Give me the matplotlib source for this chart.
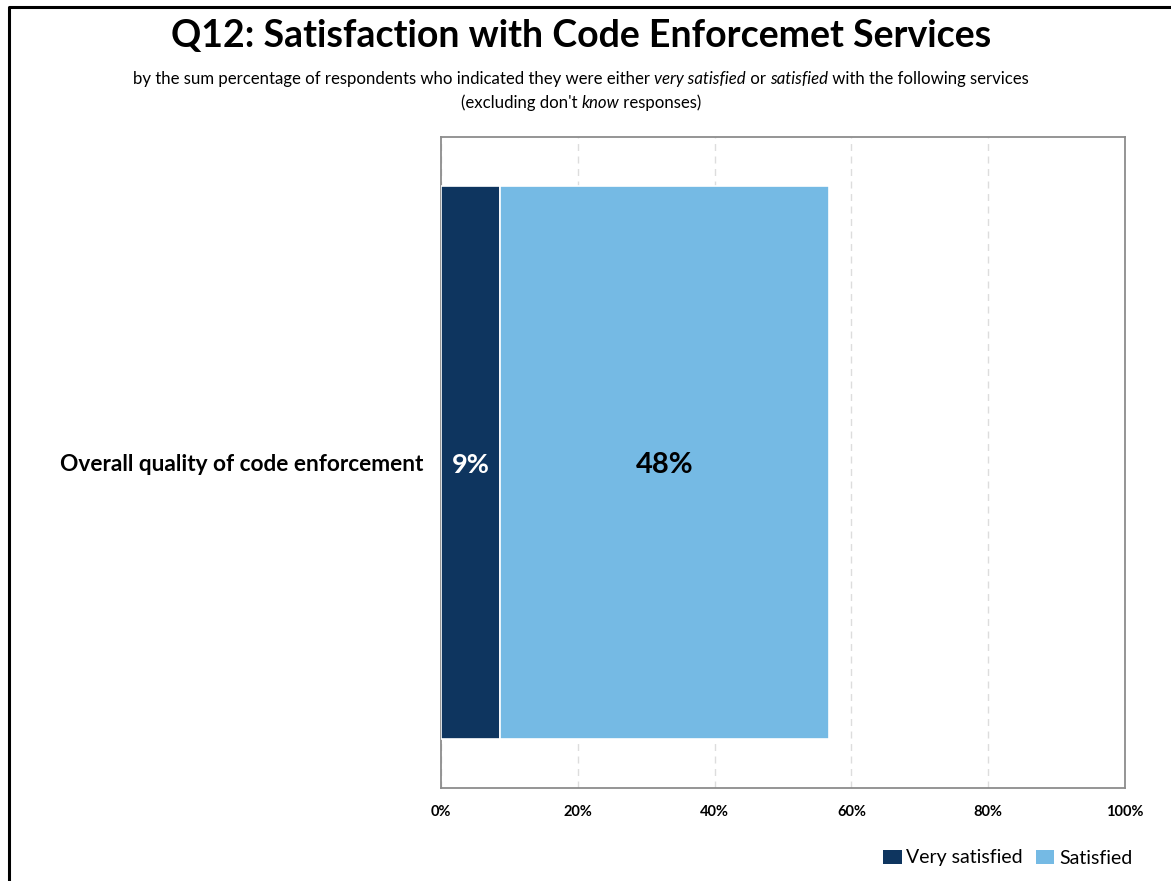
import matplotlib
matplotlib.use("Agg")
import matplotlib.pyplot as plt
from matplotlib.patches import Patch
from matplotlib.lines import Line2D

plt.rcParams['font.family'] = ['Lato', 'DejaVu Sans']

# Data
categories = ["Overall quality of code enforcement"]
very_satisfied = [8.6]
satisfied = [48.1]
series_names = ["Very satisfied", "Satisfied"]
series_colors = ["#0E355F", "#75BAE4"]
x_ticks = [0, 20, 40, 60, 80, 100]

fig = plt.figure(figsize=(11.71, 8.81), dpi=100)
W, H = 1171, 881

# outer frame (left and top edges only)
fig.add_artist(Line2D([9 / W, 9 / W, 1.0], [0.0, 1 - 7 / H, 1 - 7 / H],
                      transform=fig.transFigure, color="black", lw=2.2))

ax = fig.add_axes([441 / W, 1 - 788 / H, (1125 - 441) / W, (788 - 137) / H])

y = list(range(len(categories)))
ax.barh(y, very_satisfied, height=0.848, color=series_colors[0],
        edgecolor="white", linewidth=1.2, zorder=3)
ax.barh(y, satisfied, left=very_satisfied, height=0.848, color=series_colors[1],
        edgecolor="white", linewidth=1.2, zorder=3)

for i in y:
    ax.text(very_satisfied[i] / 2, i + 0.004, f"{very_satisfied[i]:.0f}%", color="white",
            fontsize=19.5, fontweight="bold", ha="center", va="center", zorder=4)
    ax.text(very_satisfied[i] + satisfied[i] / 2, i + 0.004, f"{satisfied[i]:.0f}%",
            color="black", fontsize=21, fontweight="bold", ha="center",
            va="center", zorder=4)

ax.set_xlim(0, 100)
ax.set_ylim(-0.5, 0.5)
ax.invert_yaxis()
ax.set_xticks(x_ticks)
ax.set_xticklabels([f"{t}%" for t in x_ticks], fontsize=10.5, fontweight="bold")
ax.set_yticks(y)
ax.set_yticklabels(categories, fontsize=16.3, fontweight="bold")
for lbl in ax.get_yticklabels():
    lbl.set_y(0.004)
ax.tick_params(axis="x", length=0, pad=12)
ax.tick_params(axis="y", length=0, pad=12.5)
ax.grid(axis="x", color="#DDDDDD", linestyle=(0, (5, 4)), linewidth=1, zorder=0)
for s in ax.spines.values():
    s.set_color("#8C8C8C")
    s.set_linewidth(1.3)

# title and subtitle
fig.text(581 / W, 1 - 36 / H, "Q12: Satisfaction with Code Enforcemet Services",
         ha="center", va="center", fontsize=27, fontweight="bold")

fig.canvas.draw()
renderer = fig.canvas.get_renderer()


def rich_line(parts, cx, cy, size):
    # draw a centred line made of plain/italic segments
    texts = []
    for s, style in parts:
        t = fig.text(0, cy, s, fontsize=size, style=style, va="center", ha="left")
        texts.append(t)
    widths = [t.get_window_extent(renderer).width for t in texts]
    x = cx - sum(widths) / 2
    for t, w in zip(texts, widths):
        t.set_x(x / W)
        x += w


rich_line([("by the sum percentage of respondents who indicated they were either ", "normal"),
           ("very satisfied", "italic"), (" or ", "normal"),
           ("satisfied", "italic"), (" with the following services", "normal")],
          581, 1 - 79 / H, 12.1)
rich_line([("(excluding don't ", "normal"), ("know", "italic"),
           (" responses)", "normal")], 581, 1 - 103 / H, 12.1)

handles = [Patch(facecolor=c, edgecolor="none") for c in series_colors]
fig.legend(handles, series_names, loc="center right", bbox_to_anchor=(1140 / W, 1 - 858 / H),
           ncol=2, frameon=False, fontsize=14, handlelength=0.95, handleheight=0.7,
           handletextpad=0.25, columnspacing=0.65, borderaxespad=0)

fig.savefig("out.png", dpi=100, facecolor="white")
